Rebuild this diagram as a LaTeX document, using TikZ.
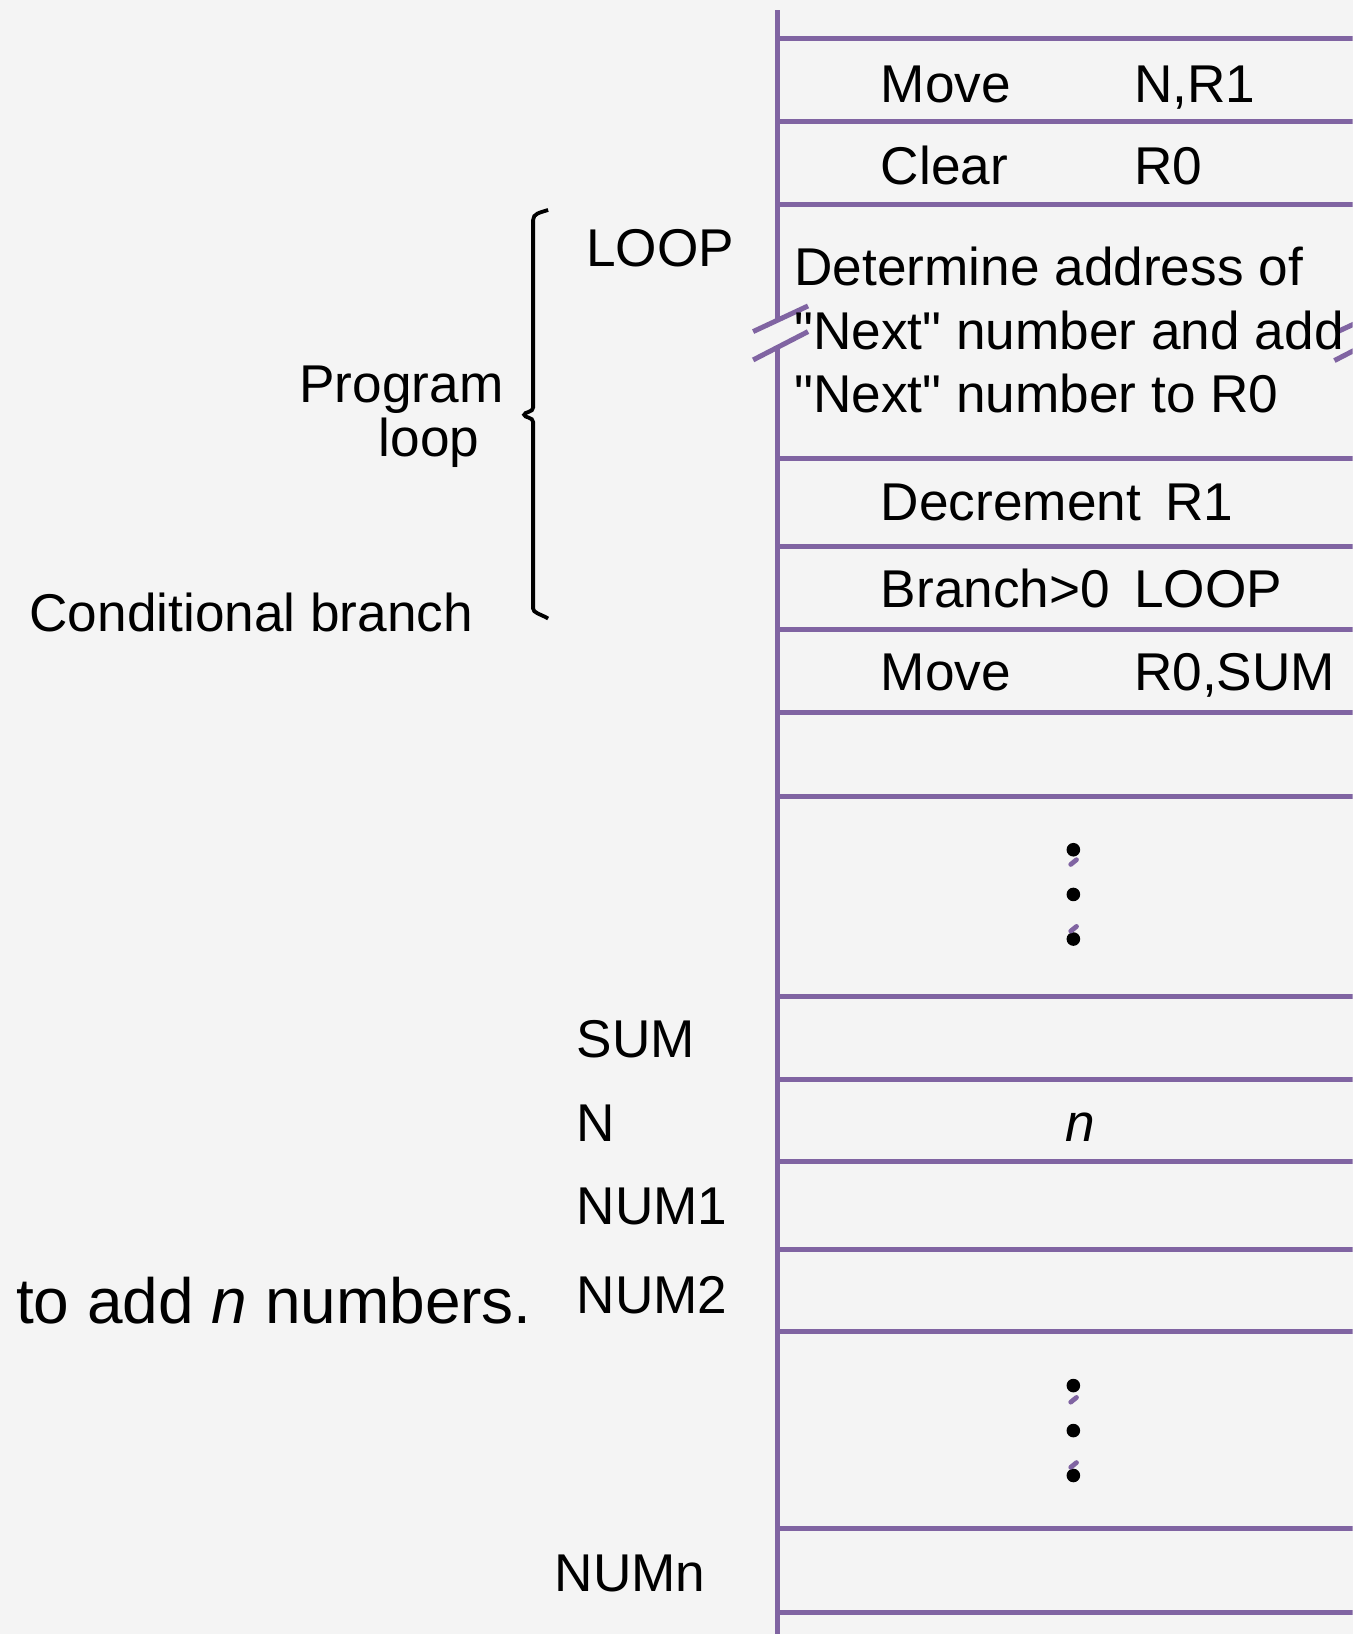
\documentclass[tikz,border=0pt]{standalone}
\usepackage{fontspec}
\setmainfont{Liberation Sans}[Ligatures=TeXOff]
\definecolor{bg}{RGB}{244,244,244}
\definecolor{mem}{RGB}{128,100,162}
\begin{document}
\begin{tikzpicture}[x=0.5212pt,y=-0.5212pt,
  txt/.style={anchor=base west,inner sep=0pt,font=\fontsize{26.6}{31}\selectfont},
  bigtxt/.style={anchor=base west,inner sep=0pt,font=\fontsize{32}{38}\selectfont},
  memline/.style={draw=mem,line width=2.5pt},
  speck/.style={draw=mem,line width=2.4pt,line cap=round},
  dot/.style={circle,fill=black,inner sep=0pt,minimum size=6.8pt},
  bracepath/.style={draw=black,line width=1.9pt}]
\fill[bg] (0,0) rectangle (1298,1568);
\useasboundingbox (0,0) rectangle (1298,1568);
\begin{scope}
\clip (0,0) rectangle (1298,1568);
% vertical memory line with break
\coordinate (vtop) at (746,10);
\coordinate (vbreakA) at (746,306);
\coordinate (vbreakB) at (746,333);
\coordinate (vbot) at (746,1580);
\draw[memline] (vtop) -- (vbreakA);
\draw[memline] (vbreakB) -- (vbot);
% break slashes
\coordinate (sl1a) at (722.7,318.2); \coordinate (sl1b) at (775.4,293.6);
\coordinate (sl2a) at (722.7,345.4); \coordinate (sl2b) at (775.4,318.2);
\draw[memline] (sl1a) -- (sl1b);
\draw[memline] (sl2a) -- (sl2b);
\coordinate (sr1a) at (1283,318.5); \coordinate (sr1b) at (1336,293.9);
\coordinate (sr2a) at (1280.5,346); \coordinate (sr2b) at (1333.2,318.8);
\draw[memline] (sr1a) -- (sr1b);
\draw[memline] (sr2a) -- (sr2b);
% horizontal lines
\foreach \yy in {37,117,196,440,524,604,684,764,956,1036,1115,1199,1278,1467,1547}{
  \coordinate (hl\yy) at (746,\yy);
  \coordinate (hr\yy) at (1310,\yy);
  \draw[memline] (hl\yy) -- (hr\yy);
}
\end{scope}
% instructions
\node[txt] (mv1) at (845,98) {Move};
\node[txt] (mv1b) at (1088,98) {N,R1};
\node[txt] (clr) at (845,177) {Clear};
\node[txt] (clrb) at (1088,177) {R0};
\node[txt] (loop) at (562,256) {LOOP};
\node[txt] (det1) at (762,274) {Determine address of};
\node[txt] (det2) at (762,335) {"Next" number and add};
\node[txt] (det3) at (762,396) {"Next" number to R0};
\node[txt] (dec) at (845,499) {Decrement};
\node[txt] (decb) at (1118,499) {R1};
\node[txt] (br) at (845,583) {Branch>0};
\node[txt] (brb) at (1088,583) {LOOP};
\node[txt] (mv2) at (845,663) {Move};
\node[txt] (mv2b) at (1088,663) {R0,SUM};
% left labels
\node[txt] (prog) at (287,386) {Program};
\node[txt] (ploop) at (363,438) {loop};
\node[txt] (cond) at (28,606) {Conditional branch};
\node[txt] (sum) at (553,1015) {SUM};
\node[txt] (nlab) at (553,1095) {N};
\node[txt] (nval) at (1022,1095) {\itshape n};
\node[txt] (num1) at (553,1175) {NUM1};
\node[txt] (num2) at (553,1260) {NUM2};
\node[txt] (numn) at (532,1527) {NUMn};
\node[bigtxt] (caption) at (15,1270) {to add \textit{n} numbers.};
% dots
\node[dot] (d1) at (1030,815.4) {};
\node[dot] (d2) at (1030,858.3) {};
\node[dot] (d3) at (1030,901.1) {};
\node[dot] (d4) at (1030,1329.6) {};
\node[dot] (d5) at (1030,1372.8) {};
\node[dot] (d6) at (1030,1415.9) {};
\coordinate (k1a) at (1027.5,829.5); \coordinate (k1b) at (1033,825);
\coordinate (k2a) at (1027.5,893.5); \coordinate (k2b) at (1033,889);
\coordinate (k3a) at (1027.5,1345.5); \coordinate (k3b) at (1033,1341);
\coordinate (k4a) at (1027.5,1408); \coordinate (k4b) at (1033,1403.5);
\draw[speck] (k1a) -- (k1b);
\draw[speck] (k2a) -- (k2b);
\draw[speck] (k3a) -- (k3b);
\draw[speck] (k4a) -- (k4b);
% brace
\coordinate (btop) at (526,201.5);
\coordinate (bbot) at (526,593.5);
\draw[bracepath] (btop) .. controls (518,204) and (511.6,205) .. (511.6,211)
  -- (511.6,391) .. controls (511.6,396) and (503,395) .. (503,398)
  .. controls (503,401) and (511.6,400) .. (511.6,405)
  -- (511.6,584) .. controls (511.6,588) and (518,589) .. (bbot);
\end{tikzpicture}
\end{document}
